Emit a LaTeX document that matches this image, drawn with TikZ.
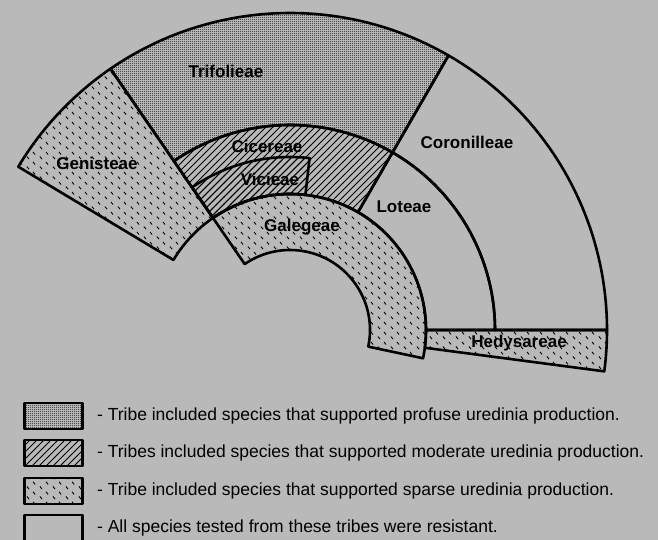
\documentclass[tikz,border=0pt]{standalone}
\usepackage{fontspec}
\setmainfont{Liberation Sans}
\usetikzlibrary{patterns,positioning}
\definecolor{paper}{RGB}{185,185,185}

% fill patterns for the three levels of uredinia production
\pgfdeclarepatternformonly{profuse}{\pgfpointorigin}{\pgfqpoint{2pt}{2pt}}{\pgfqpoint{2pt}{2pt}}{%
  \pgfpathcircle{\pgfqpoint{1pt}{1pt}}{0.7pt}\pgfusepath{fill}}
\pgfdeclarepatternformonly{moderate}{\pgfqpoint{-1pt}{-1pt}}{\pgfqpoint{8pt}{8pt}}{\pgfqpoint{7pt}{7pt}}{%
  \pgfsetlinewidth{0.8pt}%
  \pgfpathmoveto{\pgfqpoint{0pt}{0pt}}\pgfpathlineto{\pgfqpoint{7.1pt}{7.1pt}}\pgfusepath{stroke}}
\pgfdeclarepatternformonly{sparse}{\pgfpointorigin}{\pgfqpoint{13pt}{10pt}}{\pgfqpoint{13pt}{10pt}}{%
  \pgfsetlinewidth{0.95pt}%
  \pgfpathmoveto{\pgfqpoint{1pt}{3.8pt}}\pgfpathlineto{\pgfqpoint{3.2pt}{1pt}}%
  \pgfpathmoveto{\pgfqpoint{7.5pt}{8.8pt}}\pgfpathlineto{\pgfqpoint{9.7pt}{6pt}}%
  \pgfusepath{stroke}}

\begin{document}
\begin{tikzpicture}[x=1pt, y=1pt, line join=round,
    band/.style n args={4}{insert path={(#1:#3) arc[start angle=#1, end angle=#2, radius=#3]
        -- (#2:#4) arc[start angle=#2, end angle=#1, radius=#4] -- cycle}},
    tribe/.style={font=\bfseries\fontsize{17}{20}\selectfont, inner sep=1pt},
    key/.style={draw, line width=2.8pt, minimum width=58pt, minimum height=26pt, inner sep=0pt},
    keytext/.style={font=\fontsize{17.5}{21}\selectfont, inner sep=0pt, right=13pt of #1}]
  \useasboundingbox[fill=paper] (0,0) rectangle (658,540);

  % the fan of tribes
  \begin{scope}[shift={(290,210)}, line width=2.6pt]
    \draw[pattern=sparse] [band={124.5}{149}{136}{317}];
    \draw[pattern=profuse] [band={60}{124.5}{205}{317}];
    \draw [band={0}{60}{205}{317}];
    \draw[pattern=moderate] [band={60}{124.5}{136}{205}];
    \draw[pattern=moderate] [band={83.5}{124.5}{136}{173}];
    \draw [band={0}{60}{136}{205}];
    \draw[pattern=sparse] [band={-12}{124.5}{80}{136}];
    \draw[pattern=sparse] [band={-7.5}{0}{136}{317}];
  \end{scope}

  \node[tribe] (trifolieae) at (226,469) {Trifolieae};
  \node[tribe] (genisteae) at (97,377) {Genisteae};
  \node[tribe] (cicereae) at (267,394) {Cicereae};
  \node[tribe] (vicieae) at (270,361) {Vicieae};
  \node[tribe] (galegeae) at (302,313) {Galegeae};
  \node[tribe] (loteae) at (404,333) {Loteae};
  \node[tribe] (coronilleae) at (467,398) {Coronilleae};
  \node[tribe] (hedysareae) at (519,197) {Hedysareae};

  % legend
  \node[key, pattern=profuse] (keyprofuse) at (53.5,124) {};
  \node[key, pattern=moderate] (keymoderate) at (53.5,87) {};
  \node[key, pattern=sparse] (keysparse) at (53.5,49) {};
  \node[key] (keyresistant) at (53.5,12) {};
  \node[keytext=keyprofuse] (txtprofuse) {- Tribe included species that supported profuse uredinia production.};
  \node[keytext=keymoderate] (txtmoderate) {- Tribes included species that supported moderate uredinia production.};
  \node[keytext=keysparse] (txtsparse) {- Tribe included species that supported sparse uredinia production.};
  \node[keytext=keyresistant] (txtresistant) {- All species tested from these tribes were resistant.};
\end{tikzpicture}
\end{document}
